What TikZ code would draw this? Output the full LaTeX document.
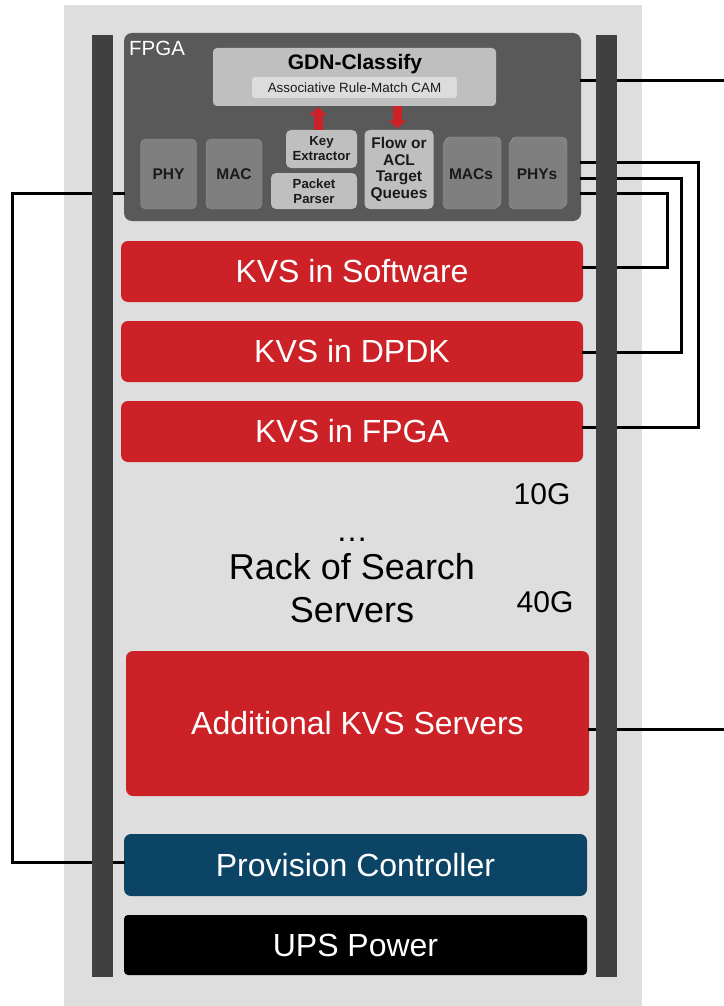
\documentclass[tikz,border=0pt]{standalone}
\usepackage{fontspec}
\setmainfont{Liberation Sans}
\usetikzlibrary{arrows.meta}
\definecolor{rackbg}{HTML}{DEDEDE}
\definecolor{railc}{HTML}{404040}
\definecolor{fpgac}{HTML}{595959}
\definecolor{lightc}{HTML}{BFBFBF}
\definecolor{camc}{HTML}{DCDCDC}
\definecolor{midc}{HTML}{7F7F7F}
\definecolor{kvsred}{HTML}{CB2127}
\definecolor{provc}{HTML}{0C4466}
\definecolor{darktext}{HTML}{1A1A1A}
\newcommand\myfs[2]{\fontsize{#1}{#2}\selectfont}
\tikzset{
  box/.style={rectangle, rounded corners=7pt, inner sep=0pt, align=center},
  kvsbox/.style={box, fill=kvsred, text=white, font=\myfs{32}{38}},
  smallbox/.style={box, rounded corners=5pt, font=\bfseries\myfs{15.5}{17}, text=darktext},
  wire/.style={line width=3pt, line cap=rect, line join=miter},
  rail/.style={fill=railc},
  redarrow/.style={line width=9pt, kvsred, -{Triangle[width=18pt,length=8pt]}},
}
\begin{document}
\begin{tikzpicture}[x=1pt,y=-1pt]
\useasboundingbox (0,0) rectangle (723,1006);
% rack background
\fill[rackbg] (64,5) rectangle (642,1006);

% main nodes
\node[box, fill=fpgac, minimum width=457, minimum height=188, rounded corners=8pt] (fpga) at (352.5,127) {};
\node[kvsbox, minimum width=462, minimum height=61] (kvss) at (352,271.5) {KVS in Software};
\node[kvsbox, minimum width=462, minimum height=61] (kvsd) at (352,351.5) {KVS in DPDK};
\node[kvsbox, minimum width=462, minimum height=61] (kvsf) at (352,431.5) {KVS in FPGA};
\node[kvsbox, minimum width=463, minimum height=145] (add) at (357.5,723.5) {Additional KVS Servers};
\node[box, fill=provc, text=white, font=\myfs{32}{38}, minimum width=463, minimum height=62] (prov) at (355.5,865) {Provision Controller};
\node[box, rounded corners=4pt, fill=black, text=white, font=\myfs{32}{38}, minimum width=463, minimum height=60] (ups) at (355.5,945) {UPS Power};

% free ends
\coordinate (out1) at (723,81);
\coordinate (out2) at (723,729);

% connectors (behind the rails)
\draw[wire] (fpga.east |- out1) -- (out1);
\draw[wire] (fpga.east |- 0,162) -- (698,162) -- (698,427) -- (kvsf.east |- 0,427);
\draw[wire] (fpga.east |- 0,178) -- (681,178) -- (681,352) -- (kvsd.east |- 0,352);
\draw[wire] (fpga.east |- 0,193) -- (667,193) -- (667,267) -- (kvss.east |- 0,267);
\draw[wire] (fpga.west |- 0,193) -- (12,193) -- (12,862) -- (prov.west |- 0,862);
\draw[wire] (add.east |- out2) -- (out2);

% rails
\fill[rail] (92,35) rectangle (113,977);
\fill[rail] (596,35) rectangle (617,977);

% FPGA internals
\node[anchor=north west, inner sep=0pt, text=white, font=\myfs{20.5}{24}] (fpgalabel) at (129,41) {FPGA};
\node[box, fill=lightc, rounded corners=4pt, minimum width=283, minimum height=58] (gdn) at (354.5,77) {};
\node[inner sep=0pt, font=\bfseries\myfs{21}{24}, text=black] (gdntitle) at (355,64) {GDN-Classify};
\node[box, fill=camc, rounded corners=3pt, minimum width=205, minimum height=21, font=\myfs{13.4}{15}, text=darktext] (cam) at (354.5,87.5) {Associative Rule-Match CAM};

\node[smallbox, fill=midc, draw=midc!85!white, minimum width=56, minimum height=70] (phy) at (168.5,174) {PHY};
\node[smallbox, fill=midc, draw=midc!85!white, minimum width=56, minimum height=70] (mac) at (234,174) {MAC};
\node[smallbox, fill=lightc, minimum width=71, minimum height=38, font=\bfseries\myfs{13.2}{15}] (key) at (321.5,149) {Key\\Extractor};
\node[smallbox, fill=lightc, minimum width=86, minimum height=36, font=\bfseries\myfs{13.2}{15}] (parser) at (314,191) {Packet\\Parser};
\node[smallbox, fill=lightc, minimum width=69, minimum height=79, font=\bfseries\myfs{15.5}{16.5}] (flow) at (399,169.5) {Flow or\\ACL\\Target\\Queues};
% stacked MACs / PHYs
\node[smallbox, fill=midc, draw=midc!70!white, minimum width=56, minimum height=70] (macsback) at (473,172) {};
\node[smallbox, fill=midc, draw=midc!85!white, minimum width=56, minimum height=69] (macs) at (471,174.5) {MACs};
\node[smallbox, fill=midc, draw=midc!70!white, minimum width=56, minimum height=70] (physback) at (539,172) {};
\node[smallbox, fill=midc, draw=midc!85!white, minimum width=56, minimum height=69] (phys) at (537,174.5) {PHYs};

% red arrows
\draw[redarrow] ([xshift=-3.5pt]key.north) -- ([xshift=-3.5pt,yshift=-1pt]key.north |- gdn.south);
\draw[redarrow] ([xshift=-1.5pt]flow.north |- gdn.south) -- ([xshift=-1.5pt,yshift=1.5pt]flow.north);

% texts in the rack
\node[font=\myfs{30}{34}, inner sep=0pt] (g10) at (542,494) {10G};
\node[font=\myfs{30}{34}, inner sep=0pt] (g40) at (545,602) {40G};
\node[font=\myfs{32}{38}, inner sep=0pt] (dots) at (352,540) {\dots};
\node[font=\myfs{36}{43}, inner sep=0pt, align=center] (rack) at (352,588) {Rack of Search\\Servers};
\end{tikzpicture}
\end{document}
